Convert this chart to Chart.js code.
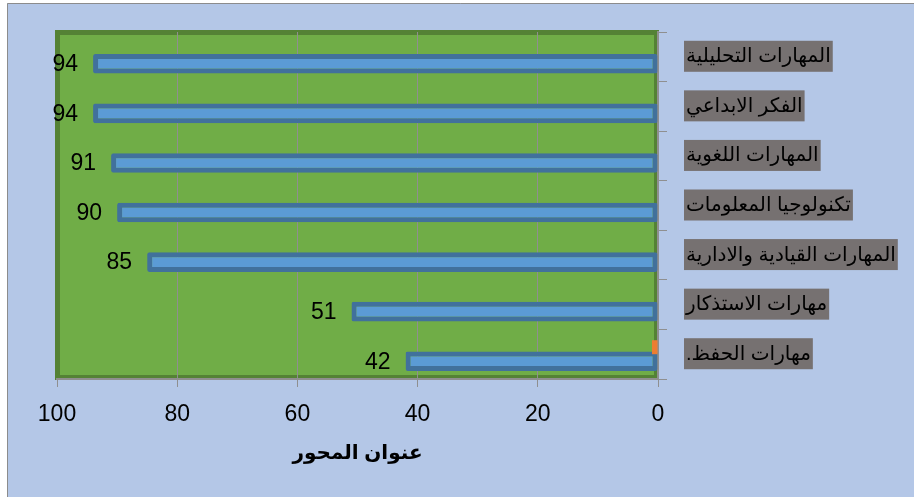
<!DOCTYPE html>
<html><head><meta charset="utf-8">
<script src="https://cdn.jsdelivr.net/npm/chart.js@4/dist/chart.umd.min.js"></script>
<style>html,body{margin:0;padding:0;background:#fff}#wrap{width:914px;height:497px}</style>
</head><body><div id="wrap"><canvas id="c" width="914" height="497"></canvas></div>
<script>
const categories = ['المهارات التحليلية','الفكر الابداعي','المهارات اللغوية','تكنولوجيا المعلومات','المهارات القيادية والادارية','مهارات الاستذكار','مهارات الحفظ.\u200F'];
const skillValues = [94, 94, 91, 90, 85, 51, 42];
const secondValues = [null, null, null, null, null, null, 1];
const xTicks = [0, 20, 40, 60, 80, 100];
const axisTitle = 'عنوان المحور';

const bgPlugin = {
  id: 'bg',
  beforeDraw(chart) {
    const {ctx, chartArea: a} = chart;
    ctx.save();
    ctx.fillStyle = '#ffffff';
    ctx.fillRect(0, 0, chart.width, chart.height);
    ctx.fillStyle = '#B4C7E7';
    ctx.fillRect(7, 3, chart.width - 7, chart.height - 3);
    ctx.strokeStyle = '#8c8c8c';
    ctx.lineWidth = 1;
    ctx.beginPath();
    ctx.moveTo(7.5, chart.height); ctx.lineTo(7.5, 3.5); ctx.lineTo(chart.width, 3.5);
    ctx.stroke();
    ctx.fillStyle = '#70AD47';
    ctx.fillRect(a.left, a.top, a.right - a.left, a.bottom - a.top);
    ctx.strokeStyle = '#548235';
    ctx.lineWidth = 5;
    ctx.strokeRect(a.left + 0.5, a.top + 0.5, a.right - a.left - 2, a.bottom - a.top - 2);
    ctx.restore();
  }
};

const labelPlugin = {
  id: 'vlabels',
  afterDatasetsDraw(chart) {
    const {ctx} = chart;
    const meta = chart.getDatasetMeta(1);
    ctx.save();
    ctx.font = '23px "Liberation Sans", Arial, sans-serif';
    ctx.fillStyle = '#000';
    ctx.textAlign = 'right';
    ctx.textBaseline = 'middle';
    meta.data.forEach((el, i) => {
      const v = chart.data.datasets[1].data[i];
      if (v == null) return;
      ctx.fillText(String(v), el.x - 15, el.y + 1);
    });
    ctx.restore();
  }
};

new Chart(document.getElementById('c'), {
  type: 'bar',
  data: {
    labels: categories,
    datasets: [
      { label: 'S2', data: secondValues, backgroundColor: '#ED7D31', borderWidth: 0, barPercentage: 1.0, categoryPercentage: 0.565 },
      { label: 'S1', data: skillValues, backgroundColor: '#5B9BD5', borderColor: '#41719C', borderWidth: 5, borderSkipped: false, borderRadius: 2, barPercentage: 1.4, categoryPercentage: 0.565 }
    ]
  },
  options: {
    indexAxis: 'y',
    responsive: false,
    animation: false,
    devicePixelRatio: 1,
    layout: { padding: { left: 57, top: 32, right: 0, bottom: 0 } },
    plugins: { legend: { display: false }, tooltip: { enabled: false } },
    scales: {
      x: {
        position: 'bottom',
        reverse: true,
        min: 0, max: 100,
        afterBuildTicks(scale) { scale.ticks = xTicks.map(v => ({ value: v })); },
        afterFit(scale) { scale.height = 118; },
        grid: {
          color: (c) => (c.tick && (c.tick.value === 0 || c.tick.value === 100)) ? 'rgba(0,0,0,0)' : '#8f8f8f',
          tickColor: '#8f8f8f',
          lineWidth: 1,
          drawTicks: true,
          tickLength: 8
        },
        border: { display: true, color: '#8f8f8f', width: 2 },
        ticks: {
          color: '#000',
          font: { family: '"Liberation Sans", Arial, sans-serif', size: 23 },
          padding: 14,
          maxRotation: 0
        },
        title: {
          display: true,
          text: axisTitle,
          color: '#000',
          font: { family: '"Liberation Sans", "DejaVu Sans", Arial, sans-serif', size: 20, weight: 'bold' },
          padding: { top: 0, bottom: 32 }
        }
      },
      y: {
        position: 'right',
        afterFit(scale) { scale.width = 914 - 658; },
        grid: {
          drawOnChartArea: false,
          drawTicks: true,
          tickLength: 9,
          color: '#8f8f8f',
          offset: true
        },
        border: { display: true, color: '#8f8f8f', width: 2 },
        ticks: {
          color: '#000',
          font: { family: '"Liberation Sans", "DejaVu Sans", Arial, sans-serif', size: 20 },
          padding: 19,
          showLabelBackdrop: true,
          backdropColor: '#767171',
          backdropPadding: { top: 4, bottom: 3, left: 2, right: 2 }
        }
      }
    }
  },
  plugins: [bgPlugin, labelPlugin]
});
</script></body></html>
